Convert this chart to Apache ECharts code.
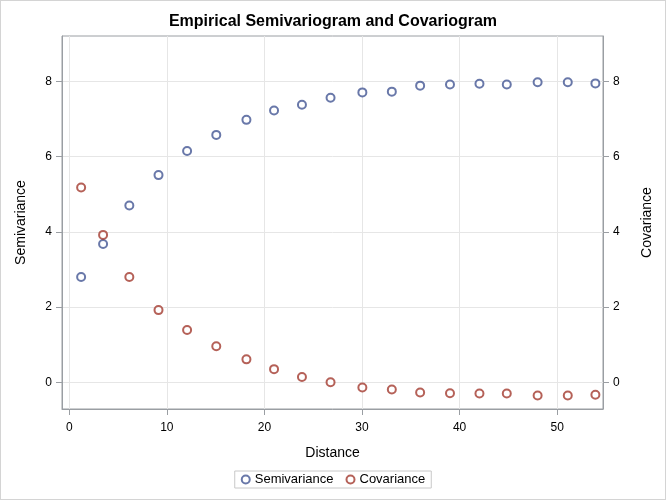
<!DOCTYPE html>
<html><head><meta charset="utf-8">
<script src="https://cdn.jsdelivr.net/npm/echarts@6/dist/echarts.min.js"></script>
<style>
html,body{margin:0;padding:0;background:#fff;}
#c{width:666px;height:500px;box-sizing:border-box;border:1px solid #d4d4d4;}
</style></head>
<body><div id="c"></div>
<script>
const distance = [1.22, 3.47, 6.16, 9.15, 12.08, 15.07, 18.16, 20.99, 23.85, 26.78, 30.04, 33.06, 35.96, 39.02, 42.04, 44.84, 48.0, 51.09, 53.92];
const semivariance = [2.80, 3.68, 4.70, 5.51, 6.15, 6.58, 6.98, 7.23, 7.38, 7.57, 7.71, 7.73, 7.89, 7.92, 7.94, 7.92, 7.98, 7.98, 7.95];
const covariance = [5.18, 3.92, 2.80, 1.92, 1.39, 0.96, 0.61, 0.35, 0.14, 0.00, -0.14, -0.19, -0.27, -0.29, -0.30, -0.30, -0.35, -0.35, -0.33];
const xTicks = [0, 10, 20, 30, 40, 50];
const yTicks = [0, 2, 4, 6, 8];

const font = '"Liberation Sans", Arial, sans-serif';
const axisColor = '#9a9ea3';
const chart = echarts.init(document.getElementById('c'), null, {renderer:'canvas'});
const yAxisCommon = {
  type:'value', min:-0.71, max:9.21,
  nameLocation:'middle', nameRotate:90,
  nameTextStyle:{fontFamily:font, fontSize:14, color:'#000'},
  axisLine:{show:true, onZero:false, lineStyle:{color:axisColor}},
  axisTick:{show:true, inside:false, length:6, lineStyle:{color:axisColor}, customValues:yTicks},
  axisLabel:{fontFamily:font, fontSize:12, color:'#000', customValues:yTicks, margin:10},
};
chart.setOption({
  animation:false,
  title:{text:'Empirical Semivariogram and Covariogram', left:'center', top:8,
    textStyle:{fontFamily:font, fontSize:16, fontWeight:'bold', color:'#000'}},
  grid:{left:61, right:62, top:35, bottom:90, show:true, borderColor:axisColor, borderWidth:1},
  legend:{bottom:11, left:'center', itemWidth:8, itemHeight:8, itemGap:12,
    borderColor:'#c8c8c8', borderWidth:1, padding:[2,6,2,6],
    textStyle:{fontFamily:font, fontSize:13, color:'#000'},
    data:['Semivariance','Covariance']},
  xAxis:{type:'value', min:-0.74, max:54.7, name:'Distance', nameLocation:'middle', nameGap:37,
    nameTextStyle:{fontFamily:font, fontSize:14, color:'#000'},
    axisLine:{show:true, onZero:false, lineStyle:{color:axisColor}},
    axisTick:{show:true, inside:false, length:6, lineStyle:{color:axisColor}, customValues:xTicks},
    axisLabel:{fontFamily:font, fontSize:12, color:'#000', customValues:xTicks, margin:13},
    splitLine:{show:true, lineStyle:{color:'#e6e6e6'}}},
  yAxis:[
    Object.assign({}, yAxisCommon, {position:'left', name:'Semivariance', nameGap:34,
      splitLine:{show:true, lineStyle:{color:'#e6e6e6'}}}),
    Object.assign({}, yAxisCommon, {position:'right', name:'Covariance', nameGap:37,
      splitLine:{show:false}})
  ],
  series:[
    {name:'Semivariance', type:'scatter', yAxisIndex:0, symbol:'emptyCircle', symbolSize:8,
     itemStyle:{color:'#445694', borderWidth:1},
     data:distance.map((d,i)=>[d, semivariance[i]])},
    {name:'Covariance', type:'scatter', yAxisIndex:1, symbol:'emptyCircle', symbolSize:8,
     itemStyle:{color:'#a23a2e', borderWidth:1},
     data:distance.map((d,i)=>[d, covariance[i]])}
  ]
});
</script></body></html>
